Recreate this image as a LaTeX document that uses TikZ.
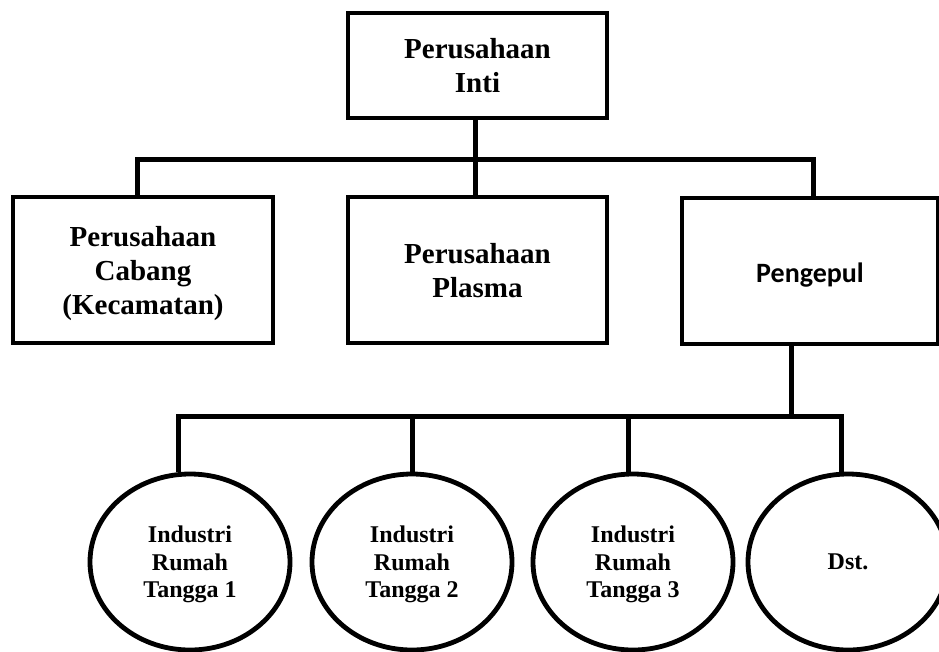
\documentclass[tikz,border=0pt]{standalone}
\usepackage{fontspec}
\setmainfont{Liberation Serif}
\newfontfamily\calibfont{Carlito}
\usetikzlibrary{shapes.geometric}
\begin{document}
\begin{tikzpicture}[x=1pt,y=-1pt,
  box/.style={draw, line width=4.8pt, rectangle, inner sep=0pt, align=center,
    font=\bfseries\fontsize{29}{34}\selectfont, text depth=0pt},
  oval/.style={draw, line width=4.8pt, ellipse, minimum width=200pt,
    minimum height=176pt, inner sep=0pt, align=center,
    font=\bfseries\fontsize{24}{27.5}\selectfont, text depth=0pt},
  conn/.style={line width=5pt}]
\useasboundingbox (0,0) rectangle (939,651);
\clip (0,0) rectangle (939,651);
% boxes
\node[box, minimum width=259pt, minimum height=105pt] (top) at (477.5,65.5) {Perusahaan\\Inti};
\node[box, minimum width=260pt, minimum height=146pt] (cab) at (143,270) {Perusahaan\\Cabang\\(Kecamatan)};
\node[box, minimum width=259pt, minimum height=146pt] (pla) at (477.5,270) {Perusahaan\\Plasma};
\node[box, minimum width=256pt, minimum height=146pt, text height=22pt,
  font=\calibfont\bfseries\fontsize{28}{34}\selectfont] (pen) at (810,271) {Pengepul};
% ovals
\node[oval] (c1) at (190,562) {Industri\\Rumah\\Tangga 1};
\node[oval] (c2) at (412,562) {Industri\\Rumah\\Tangga 2};
\node[oval] (c3) at (633,562) {Industri\\Rumah\\Tangga 3};
\node[oval] (c4) at (848,562) {Dst.};
% upper connectors
\coordinate (j1) at (475,159);
\draw[conn] ([xshift=-2.5pt]top.south) -- (j1);
\draw[conn] ([xshift=-6pt]cab.north) |- ([xshift=3pt]pen.north |- j1) -- ([xshift=3pt]pen.north);
\draw[conn] (j1) -- ([xshift=-2.5pt]pla.north);
% lower connectors
\coordinate (j2) at (791,416);
\draw[conn] ([xshift=-19pt]pen.south) -- (j2);
\draw[conn] ([xshift=-12pt]c1.north) |- ([xshift=-7pt]c4.north |- j2) -- ([xshift=-7pt]c4.north);
\draw[conn] (c2.north) -- (c2.north |- j2);
\draw[conn] ([xshift=-5pt]c3.north) -- ([xshift=-5pt]c3.north |- j2);
\end{tikzpicture}
\end{document}
